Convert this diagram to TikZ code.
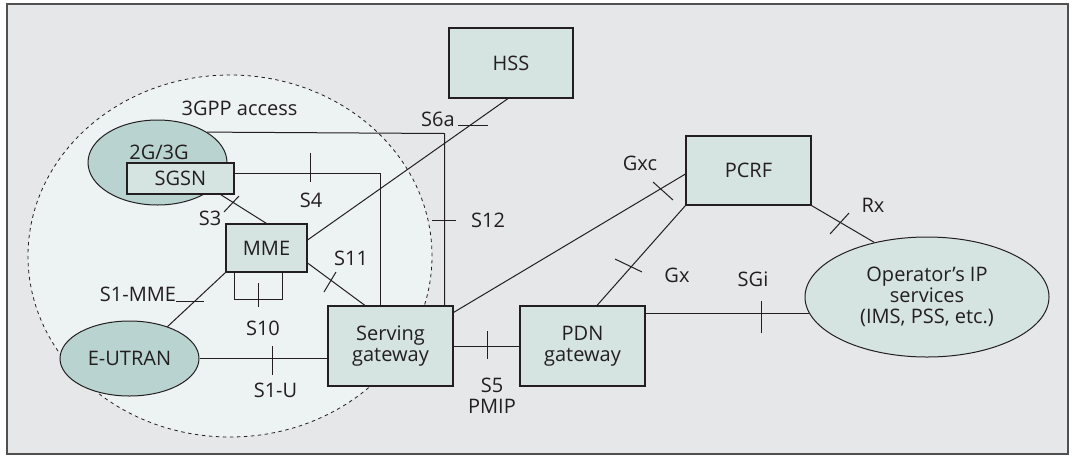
\documentclass[tikz,border=0pt]{standalone}
\usepackage{fontspec}
\setmainfont{Open Sans}
\usetikzlibrary{shapes.geometric}
\definecolor{framebg}{HTML}{E6E7E9}
\definecolor{circbg}{HTML}{EDF2F3}
\definecolor{boxfill}{HTML}{D5E3E1}
\definecolor{ellfill}{HTML}{B9D4D0}
\definecolor{ink}{HTML}{231F20}
\definecolor{framecol}{HTML}{505050}
\begin{document}
\begin{tikzpicture}[x=1pt,y=-1pt,
  every node/.style={font=\fontsize{20}{21}\selectfont, text=ink},
  box/.style={draw=ink, line width=1.1pt, fill=boxfill, inner sep=0pt, align=center},
  ell/.style={ellipse, draw=ink, line width=1pt, inner sep=0pt, align=center},
  conn/.style={draw=ink, line width=1pt},
  tick/.style={draw=ink, line width=1pt},
  lbl/.style={anchor=base, inner sep=0pt}]
\useasboundingbox (0,0) rectangle (1073,456);
\fill[white] (0,0) rectangle (1073,456);
\draw[fill=framebg, draw=framecol, line width=1.5pt] (7,4) rectangle (1068,454);
% 3GPP access area
\node[ellipse, minimum width=404pt, minimum height=362pt, inner sep=0pt, fill=circbg, draw=ink, dash pattern=on 3.5pt off 3.5pt, line width=0.8pt] (area) at (230,256) {};
\node[lbl] (arealbl) at (239.5,115) {3GPP access};
% nodes
\node[ell, fill=ellfill, minimum width=139pt, minimum height=85pt] (g23) at (157.5,162.5) {};
\node[lbl] (g23lbl) at (159,159) {2G/3G};
\node[box, minimum width=107pt, minimum height=31pt] (sgsn) at (180.5,178.5) {SGSN};
\node[box, minimum width=124pt, minimum height=70pt] (hss) at (511,63) {HSS};
\node[box, minimum width=81pt, minimum height=48pt] (mme) at (266.5,248) {MME};
\node[ell, fill=ellfill, minimum width=139pt, minimum height=75pt] (eutran) at (129.5,358.5) {E-UTRAN};
\node[box, minimum width=125pt, minimum height=80pt] (sgw) at (390.5,346) {Serving\\gateway};
\node[box, minimum width=125pt, minimum height=80pt] (pdn) at (582.5,346) {PDN\\gateway};
\node[box, minimum width=125pt, minimum height=69pt] (pcrf) at (748.5,170.5) {PCRF};
\node[ell, fill=boxfill, minimum width=244pt, minimum height=120pt] (ops) at (927,297) {Operator’s IP\\services\\(IMS, PSS, etc.)};
% connectors
\coordinate (c12) at (444.5,133.5);
\draw[conn] (g23.north east) -- (c12) -- (c12 |- sgw.north);
\coordinate (c4) at (380.5,173.5);
\draw[conn] (sgsn.east |- c4) -- (c4) -- (c4 |- sgw.north);
\draw[conn] ([xshift=-14pt]sgsn.south east) -- (mme.north);
\draw[conn] ([xshift=-3pt]hss.south) -- ([yshift=8pt]mme.east);
\draw[conn] ([yshift=-15pt]mme.east) -- ([xshift=-25.5pt]sgw.north);
\draw[conn] ([xshift=-32pt]mme.south) -- ++(0,26.5) -- ++(48,0) -- ++(0,-26.5);
\draw[conn] (eutran.40) -- (mme.south west);
\draw[conn] (eutran.east) -- (eutran.east -| sgw.west);
\draw[conn] ([yshift=-0.5pt]sgw.east) -- ([yshift=-0.5pt]pdn.west);
\draw[conn] ([yshift=-7pt]sgw.north east) -- ([yshift=-3.5pt]pcrf.west);
\draw[conn] ([xshift=14.5pt]pdn.north) -- (pcrf.south west);
\draw[conn] (pcrf.south east) -- (ops.134);
\draw[conn] (ops.188 -| pdn.east) -- (ops.188);
% interface ticks
\draw[tick] (458,125.5) -- (488,125.5);
\draw[tick] (432,220.5) -- (456,220.5);
\draw[tick] (310.5,153) -- (310.5,182);
\draw[tick] (224,212) -- (239,196);
\draw[tick] (258.5,283) -- (258.5,307);
\draw[tick] (324,292) -- (336,272);
\draw[tick] (176,301.5) -- (204,301.5);
\draw[tick] (272.5,346) -- (272.5,375);
\draw[tick] (487.5,331) -- (487.5,359);
\draw[tick] (653,182) -- (673,200);
\draw[tick] (615,259) -- (642,272);
\draw[tick] (830,234) -- (849,213);
\draw[tick] (761.5,301) -- (761.5,333);
% interface labels
\node[lbl] (ls6a) at (438,126) {S6a};
\node[lbl] (ls12) at (488,227) {S12};
\node[lbl] (ls4) at (311,207) {S4};
\node[lbl] (ls3) at (210,225) {S3};
\node[lbl] (ls11) at (351,265) {S11};
\node[lbl] (ls1mme) at (138,301) {S1-MME};
\node[lbl] (ls10) at (263,335) {S10};
\node[lbl] (ls1u) at (275.5,397) {S1-U};
\node[align=center, inner sep=0pt] (ls5) at (492,395.5) {S5\\PMIP};
\node[lbl] (lgxc) at (640,170) {Gxc};
\node[lbl] (lgx) at (677,282) {Gx};
\node[lbl] (lsgi) at (753,286) {SGi};
\node[lbl] (lrx) at (873,212) {Rx};
\end{tikzpicture}
\end{document}
